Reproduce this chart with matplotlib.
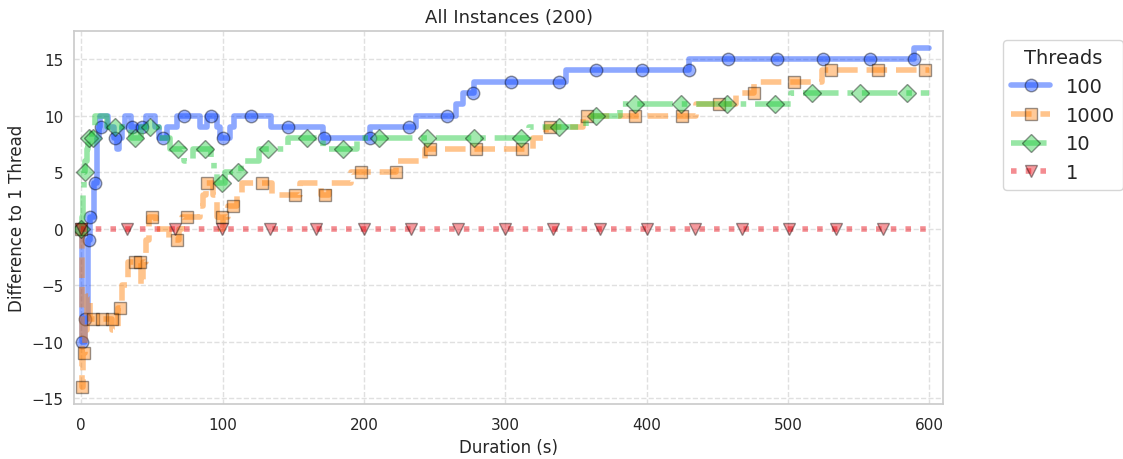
import matplotlib.pyplot as plt
import seaborn as sns

# thread counts, in legend order
threads = ['100', '1000', '10', '1']

# step change points: time (s) and difference to 1 thread
t_100 = [0, 0.5, 2.5, 5, 6, 9, 11, 12.5, 13.5, 19, 23, 25, 26.5, 29, 31, 35, 46, 52,
         55, 61, 68, 84, 89, 96, 98, 105, 108, 134, 171, 204, 237, 265, 270, 278,
         343, 430, 589, 600]
d_100 = [0, -10, -8, -1, 1, 4, 8, 9, 10, 9, 8, 7, 8, 9, 10, 9, 10, 9,
         8, 9, 10, 9, 10, 9, 8, 9, 10, 9, 8, 9, 10, 11, 12, 13,
         14, 15, 16, 16]

t_1000 = [0, 0.3, 1, 1.5, 3, 4, 6, 22, 26, 29, 33, 42, 44, 46, 48, 53, 62, 69, 71,
          84, 86, 88, 93, 96, 98, 100, 104, 110, 114, 135, 155, 170, 175, 191, 223,
          243, 320, 329, 355, 435, 463, 476, 524, 600]
d_1000 = [0, -14, -13, -11, -9, -6, -8, -9, -7, -5, -3, -5, -3, -1, 1, 0, -1, 0, 1,
          2, 3, 4, 3, 1, 0, 1, 2, 3, 4, 3, 4, 3, 4, 5, 6,
          7, 8, 9, 10, 11, 12, 13, 14, 14]

t_10 = [0, 0.5, 1, 1.5, 2, 3, 4, 5, 8, 10, 18, 35, 42, 55, 63, 73, 79, 92, 94, 96,
        102, 113, 126, 146, 171, 195, 317, 357, 381, 502, 600]
d_10 = [0, 1, 2, 3, 5, 6, 7, 8, 9, 10, 9, 8, 9, 8, 7, 6, 7, 6, 5, 4,
        5, 6, 7, 8, 7, 8, 9, 10, 11, 12, 12]

t_1 = [0, 600]
d_1 = [0, 0]

# marked samples along each curve
mt_100 = [0, 0.5, 2.8, 5.2, 6.4, 10, 14, 24, 36, 43, 58, 73, 92, 100, 120, 146, 172,
          204, 232, 259, 277, 304, 338, 364.6, 397, 430, 458, 492, 525, 558, 589]
md_100 = [0, -10, -8, -1, 1, 4, 9, 8, 9, 9, 8, 10, 10, 8, 10, 9, 8,
          8, 9, 10, 12, 13, 13, 14, 14, 14, 15, 15, 15, 15, 15]

mt_1000 = [0, 0.5, 2, 8.6, 14.6, 21.7, 27.6, 38, 41.7, 50, 67.6, 74.7, 88.8, 99.4,
           107.6, 127.7, 151, 172.4, 198, 223, 247, 279, 312, 332, 357.6, 391.5, 425,
           451, 476, 504, 530.5, 564, 597]
md_1000 = [0, -14, -11, -8, -8, -8, -7, -3, -3, 1, -1, 1, 4, 1,
           2, 4, 3, 3, 5, 5, 7, 7, 7, 9, 10, 10, 10,
           11, 12, 13, 14, 14, 14]

mt_10 = [0, 2.8, 5.2, 8.7, 24, 38, 48.8, 68.7, 87.6, 99.6, 110.7, 132, 159.5, 185,
         211, 245, 278, 311, 338, 364, 391.5, 424.5, 457, 491, 517, 551, 584]
md_10 = [0, 5, 8, 8, 9, 8, 9, 7, 7, 4, 5, 7, 8, 7,
         8, 8, 8, 8, 9, 10, 11, 11, 11, 11, 12, 12, 12]

mt_1 = [0, 32.5, 66.5, 99.7, 133.6, 166.2, 200.1, 233.4, 266.6, 299.9, 333.8, 367.1,
        400.3, 434.3, 467.5, 500.8, 534, 567.3]
md_1 = [0] * len(mt_1)

sns.set_theme(style='whitegrid', palette='bright')
plt.rcParams['grid.linestyle'] = '--'
plt.rcParams['grid.color'] = '0.88'
plt.rcParams['ytick.major.pad'] = 1.5

fig, ax = plt.subplots(figsize=(11.23, 4.6), dpi=100)
fig.subplots_adjust(left=0.066, right=0.84, top=0.931, bottom=0.12)

colors = sns.color_palette('bright')
series = [(t_100, d_100), (t_1000, d_1000), (t_10, d_10), (t_1, d_1)]
marks = [(mt_100, md_100), (mt_1000, md_1000), (mt_10, md_10), (mt_1, md_1)]
styles = [('-', 'o'), ('--', 's'), ('-.', 'D'), (':', 'v')]

handles = []
for (t, d), (mt, md), (ls, m), c in zip(series, marks, styles, colors):
    line, = ax.plot(t, d, drawstyle='steps-post', ls=ls, lw=4, alpha=0.45, color=c)
    pts, = ax.plot(mt, md, ls='none', marker=m, ms=9, alpha=0.4, color=c,
                   mec='black', mew=1)
    handles.append((line, pts))

ax.set_xlim(-5, 610)
ax.set_title('All Instances (200)', fontsize=13)
ax.set_xlabel('Duration (s)')
ax.set_ylabel('Difference to 1 Thread')
ax.legend(handles, threads, title='Threads', bbox_to_anchor=(1.058, 1),
          loc='upper left', fontsize=14, title_fontsize=14)

fig.savefig('out.png')
